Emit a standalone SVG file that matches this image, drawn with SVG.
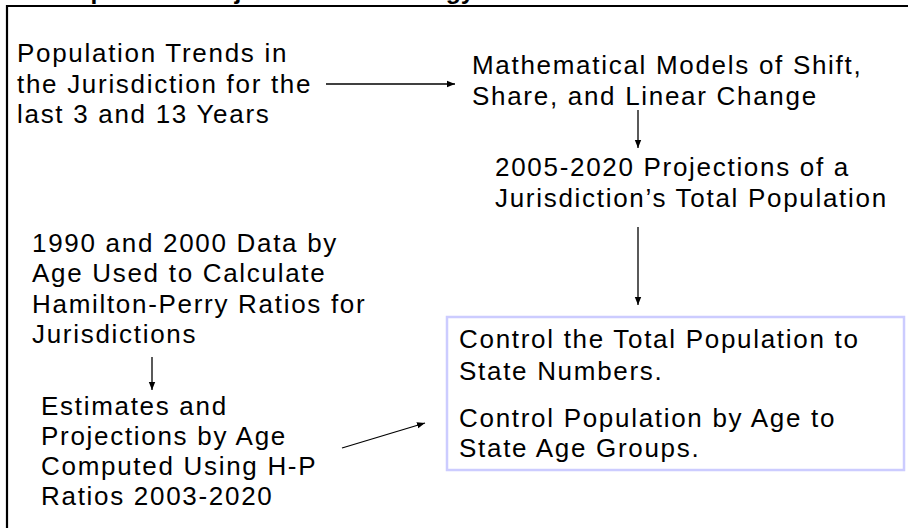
<svg xmlns="http://www.w3.org/2000/svg" width="908" height="528" viewBox="0 0 908 528">
<style>
.t{font-family:"Liberation Sans",Arial,sans-serif;font-size:26px;letter-spacing:1.7px;fill:#000}
.title{font-family:"Liberation Sans",Arial,sans-serif;font-size:24.7px;font-weight:bold;fill:#000}
.c{stroke:#000;stroke-width:1.3;fill:none;marker-end:url(#ah)}
</style>
<defs>
<marker id="ah" viewBox="0 0 10 10" refX="10" refY="5" markerWidth="8" markerHeight="8" markerUnits="userSpaceOnUse" orient="auto">
<path d="M0,1 L10,5 L0,9 Z" fill="#000"/>
</marker>
</defs>
<rect width="908" height="528" fill="#fff"/>
<text class="title" x="59" y="-1">Population Projection Methodology</text>
<path d="M7,528 V6 H908" fill="none" stroke="#000" stroke-width="2.2"/>
<g id="trends">
<text class="t"><tspan x="17" y="62">Population Trends in</tspan><tspan x="17" y="92.5">the Jurisdiction for the</tspan><tspan x="17" y="122.5">last 3 and 13 Years</tspan></text>
</g>
<g id="models">
<text class="t"><tspan x="472" y="74">Mathematical Models of Shift,</tspan><tspan x="472" y="104.5">Share, and Linear Change</tspan></text>
</g>
<g id="projections">
<text class="t"><tspan x="495" y="176">2005-2020 Projections of a</tspan><tspan x="495" y="207">Jurisdiction’s Total Population</tspan></text>
</g>
<g id="data">
<text class="t"><tspan x="32" y="252">1990 and 2000 Data by</tspan><tspan x="32" y="282">Age Used to Calculate</tspan><tspan x="32" y="313">Hamilton-Perry Ratios for</tspan><tspan x="32" y="343">Jurisdictions</tspan></text>
</g>
<g id="estimates">
<text class="t"><tspan x="41" y="415">Estimates and</tspan><tspan x="41" y="445">Projections by Age</tspan><tspan x="41" y="475">Computed Using H-P</tspan><tspan x="41" y="505">Ratios 2003-2020</tspan></text>
</g>
<g id="control">
<rect x="447" y="317" width="457" height="153" fill="#fff" stroke="#ccccff" stroke-width="2.5"/>
<text class="t"><tspan x="459" y="348">Control the Total Population to</tspan><tspan x="459" y="380">State Numbers.</tspan><tspan x="459" y="427">Control Population by Age to</tspan><tspan x="459" y="457">State Age Groups.</tspan></text>
</g>
<g id="connectors">
<path class="c" d="M326,84 H455"/>
<path class="c" d="M638,110 V148"/>
<path class="c" d="M638,227 V305"/>
<path class="c" d="M152,357 V390"/>
<path class="c" d="M342,448 L425,423"/>
</g>
</svg>
